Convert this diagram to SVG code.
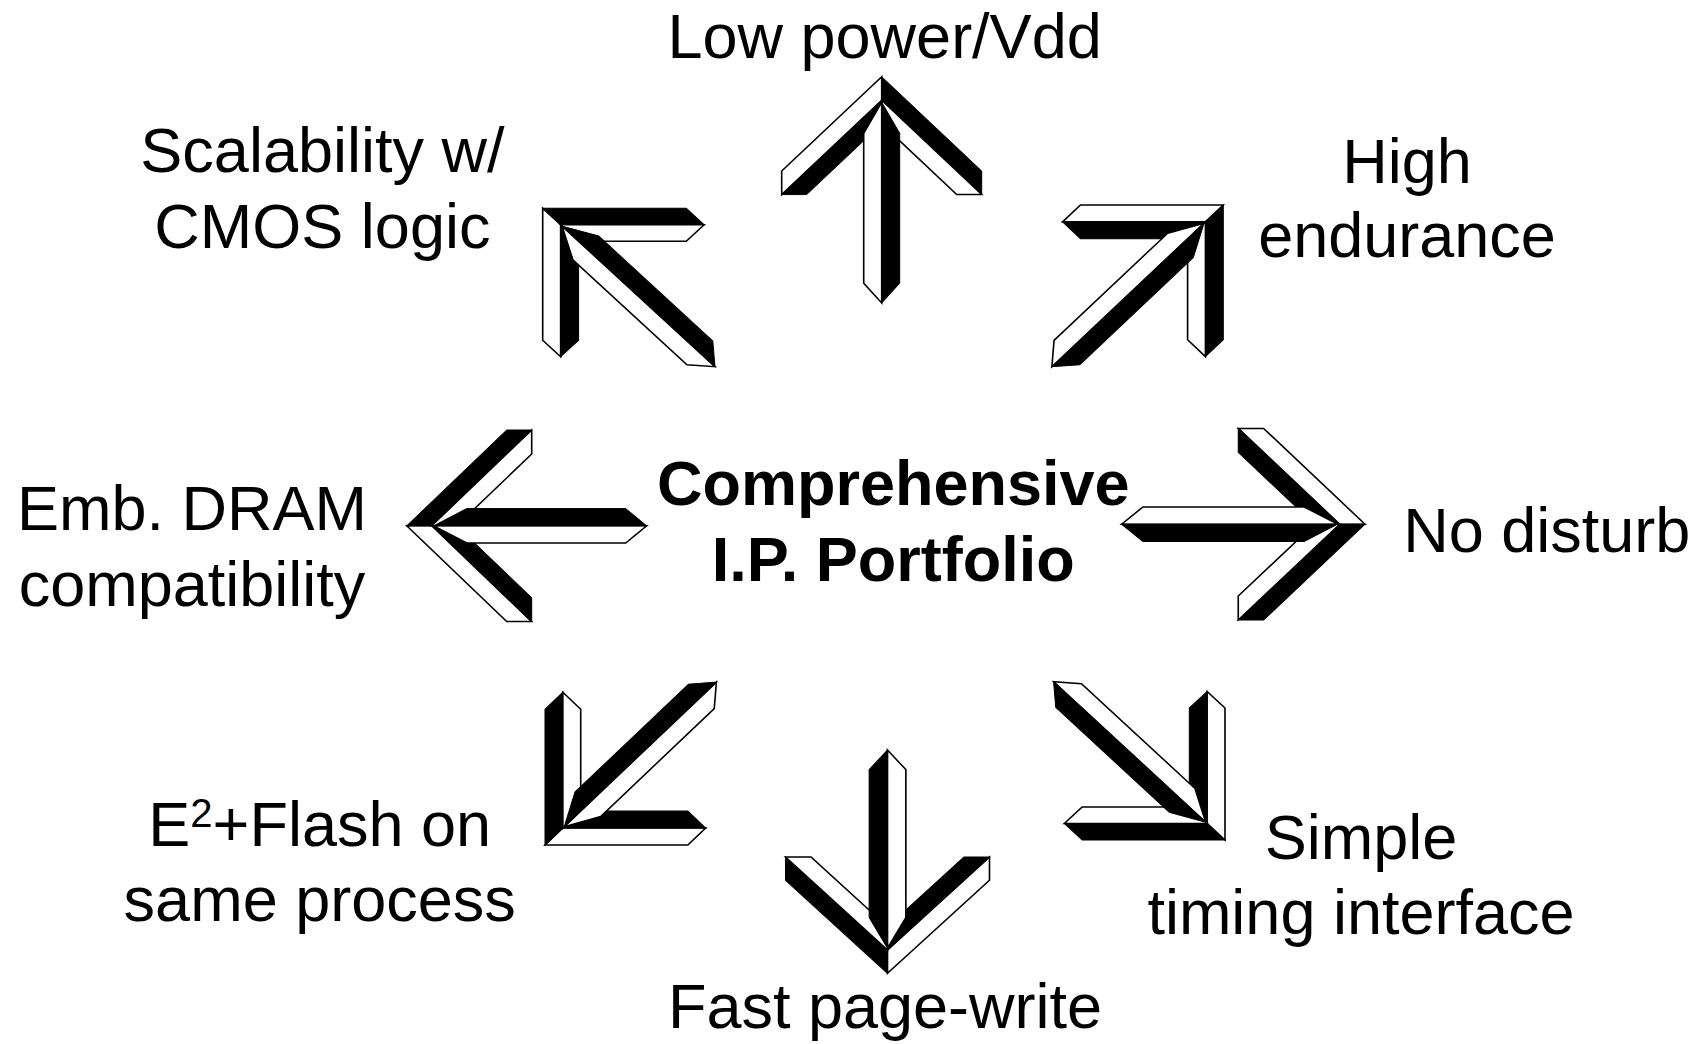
<svg xmlns="http://www.w3.org/2000/svg" xmlns:xlink="http://www.w3.org/1999/xlink" width="1705" height="1044" viewBox="0 0 1705 1044">
<style>
  .w { fill: #ffffff; stroke: #000000; stroke-width: 1.6; stroke-linejoin: miter; }
  .b { fill: #000000; stroke: #000000; stroke-width: 1; stroke-linejoin: miter; }
  .lbl { font-family: "Liberation Sans", Arial, sans-serif; font-size: 63px; fill: #000000; text-anchor: middle; }
  .ctr { font-family: "Liberation Sans", Arial, sans-serif; font-size: 63px; font-weight: bold; fill: #000000; text-anchor: middle; }
</style>
<defs>
  <g id="arr">
    <polygon class="w" points="0,0 -100,100 -100,125 0,25"/>
    <polygon class="b" points="-100,125 -75,125 0,50 0,25"/>
    <polygon class="b" points="0,0 100,100 100,125 0,25"/>
    <polygon class="w" points="100,125 75,125 0,50 0,25"/>
    <polygon class="w" points="0,27 -18,60 -18,219 0,240"/>
    <polygon class="b" points="0,27 18,60 18,219 0,240"/>
  </g>
</defs>
<rect x="0" y="0" width="1705" height="1044" fill="#ffffff"/>
<g id="connectors">
  <use id="arrow-up" xlink:href="#arr" href="#arr" transform="translate(881.7,76.7) scale(1,0.943)"/>
  <use id="arrow-down" xlink:href="#arr" href="#arr" transform="translate(887.5,973.3) scale(1.02,0.93) rotate(180)"/>
  <use id="arrow-left" xlink:href="#arr" href="#arr" transform="translate(406.7,525.8) scale(1,0.958) rotate(-90)"/>
  <use id="arrow-right" xlink:href="#arr" href="#arr" transform="translate(1365,524.2) scale(1.014,0.958) rotate(90)"/>
  <use id="arrow-upleft" xlink:href="#arr" href="#arr" transform="translate(542.7,208.3) scale(1.015,0.933) rotate(-45)"/>
  <use id="arrow-upright" xlink:href="#arr" href="#arr" transform="translate(1223.3,205) scale(1.01,0.953) rotate(45)"/>
  <use id="arrow-downleft" xlink:href="#arr" href="#arr" transform="translate(545,845) scale(1.01,0.96) rotate(-135)"/>
  <use id="arrow-downright" xlink:href="#arr" href="#arr" transform="translate(1225,840) scale(1.01,0.933) rotate(135)"/>
</g>
<g id="center">
  <text class="ctr" x="893.3" y="505">Comprehensive</text>
  <text class="ctr" x="893.3" y="581">I.P. Portfolio</text>
</g>
<g id="low-power">
  <text class="lbl" x="884.6" y="58">Low power/Vdd</text>
</g>
<g id="scalability">
  <text class="lbl" x="322.4" y="172">Scalability w/</text>
  <text class="lbl" x="322.4" y="248">CMOS logic</text>
</g>
<g id="high-endurance">
  <text class="lbl" x="1407" y="183">High</text>
  <text class="lbl" x="1407" y="257">endurance</text>
</g>
<g id="emb-dram">
  <text class="lbl" x="192" y="530">Emb. DRAM</text>
  <text class="lbl" x="192" y="606">compatibility</text>
</g>
<g id="no-disturb">
  <text class="lbl" x="1546.8" y="552">No disturb</text>
</g>
<g id="e2-flash">
  <text class="lbl" x="319.7" y="846">E<tspan font-size="40" dy="-19">2</tspan><tspan dy="19">+Flash on</tspan></text>
  <text class="lbl" x="319.7" y="921">same process</text>
</g>
<g id="simple-timing">
  <text class="lbl" x="1361" y="859">Simple</text>
  <text class="lbl" x="1361" y="934">timing interface</text>
</g>
<g id="fast-page">
  <text class="lbl" x="885" y="1028">Fast page-write</text>
</g>
</svg>
